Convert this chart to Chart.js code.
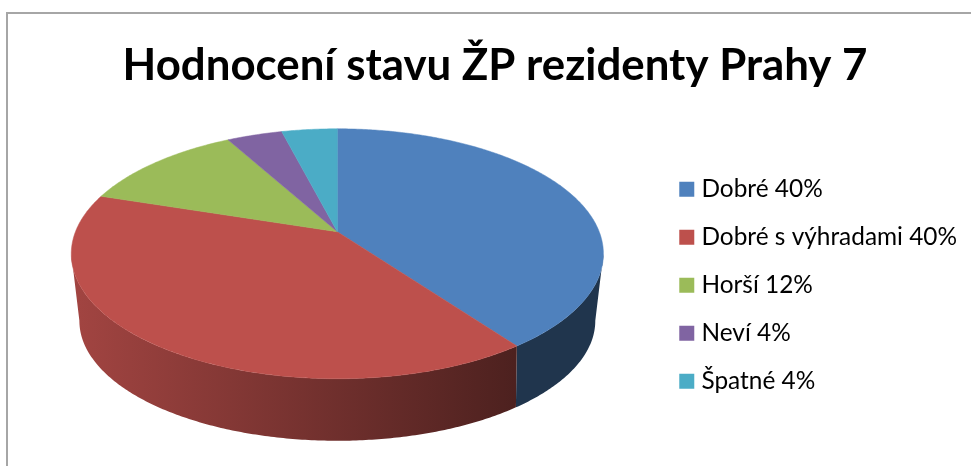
<!DOCTYPE html>
<html>
<head>
<meta charset="utf-8">
<script src="https://cdn.jsdelivr.net/npm/chart.js@4"></script>
<style>
  html, body { margin: 0; background: #fff; overflow: hidden; }
  #frame { position: absolute; left: 6px; top: 12px; width: 1000px; height: 500px; border: 2px solid #a6a6a6; }
  #wrap { position: absolute; left: 0; top: 0; width: 971px; height: 466px; }
</style>
</head>
<body>
<div id="frame"></div>
<div id="wrap"><canvas id="myChart" width="971" height="466"></canvas></div>
<script>
const categories = ['Dobré', 'Dobré s výhradami', 'Horší', 'Neví', 'Špatné'];
const shares = [40, 40, 12, 4, 4];
const colors = ['#4f81bd', '#bd504c', '#9bbb59', '#8064a2', '#4bacc6'];
const titleText = 'Hodnocení stavu ŽP rezidenty Prahy 7';

// camera for the tilted pie, offsets are measured from the arc centre
const topFace = { k: 0.176, ax: 261.9, by: 121.1, dx: -4.5, lift: -53.5 };
const bottomFace = { k: 0.21, ax: 252.2, by: 114.7, dx: -4.5, lift: 10.3 };

function project(arc, face, angle) {
  const u = Math.cos(angle);
  const v = Math.sin(angle);
  const w = 1 - face.k * v;
  return {
    x: arc.x + face.dx + (face.ax * u) / w,
    y: arc.y + face.lift + (face.by * v) / w,
  };
}

function shade(hex, f) {
  const n = parseInt(hex.slice(1), 16);
  const r = Math.round(((n >> 16) & 255) * f);
  const g = Math.round(((n >> 8) & 255) * f);
  const b = Math.round((n & 255) * f);
  return `rgb(${r}, ${g}, ${b})`;
}

function arcPoints(arc, face, from, to) {
  const pts = [];
  const steps = Math.max(2, Math.ceil((to - from) / 0.01));
  for (let i = 0; i <= steps; i++) {
    pts.push(project(arc, face, from + ((to - from) * i) / steps));
  }
  return pts;
}

// rim of one face limited to the part that faces the viewer
function rim(arc, face) {
  const edge = Math.asin(face.k);
  const from = Math.max(arc.startAngle, edge);
  const to = Math.min(arc.endAngle, Math.PI - edge);
  return to > from ? arcPoints(arc, face, from, to) : [];
}

// the arcs come from the pie controller, only their outline is re-projected
const tiltedPie = {
  id: 'tiltedPie',
  beforeDatasetsDraw(chart) {
    const ctx = chart.ctx;
    const arcs = chart.getDatasetMeta(0).data;

    // side wall first
    arcs.forEach((arc, i) => {
      const upper = rim(arc, topFace);
      const lower = rim(arc, bottomFace);
      if (!upper.length || !lower.length) return;
      const grad = ctx.createLinearGradient(79, 0, 515, 0);
      grad.addColorStop(0, shade(colors[i], 0.85));
      grad.addColorStop(1, shade(colors[i], 0.41));
      ctx.beginPath();
      upper.forEach((p, n) => (n ? ctx.lineTo(p.x, p.y) : ctx.moveTo(p.x, p.y)));
      lower.reverse().forEach((p) => ctx.lineTo(p.x, p.y));
      ctx.closePath();
      ctx.fillStyle = grad;
      ctx.fill();
    });

    // top face
    arcs.forEach((arc, i) => {
      const pts = arcPoints(arc, topFace, arc.startAngle, arc.endAngle);
      ctx.beginPath();
      ctx.moveTo(arc.x + topFace.dx, arc.y + topFace.lift);
      pts.forEach((p) => ctx.lineTo(p.x, p.y));
      ctx.closePath();
      ctx.fillStyle = colors[i];
      ctx.fill();
      ctx.strokeStyle = colors[i];
      ctx.lineWidth = 0.5;
      ctx.stroke();
    });
    return false;
  },
};

new Chart(document.getElementById('myChart').getContext('2d'), {
  type: 'pie',
  data: {
    labels: categories,
    datasets: [
      {
        data: shares,
        backgroundColor: colors,
        borderWidth: 0,
        radius: 181,
      },
    ],
  },
  options: {
    responsive: false,
    animation: false,
    layout: { padding: { left: 23, right: 4, top: 0, bottom: 0 } },
    plugins: {
      tooltip: { enabled: false },
      title: {
        display: true,
        text: titleText,
        color: '#000',
        font: { family: 'Lato', size: 43.8, weight: 'bold' },
        padding: { top: 40, bottom: 12 },
      },
      legend: {
        position: 'right',
        fullSize: false,
        labels: {
          boxWidth: 5,
          boxHeight: 5,
          padding: 23.6,
          color: '#111',
          font: { family: 'Lato', size: 24.4 },
          generateLabels() {
            return categories.map((name, i) => ({
              text: `${name} ${shares[i]}%`,
              fillStyle: colors[i],
              strokeStyle: colors[i],
              lineWidth: 10,
              index: i,
            }));
          },
        },
      },
    },
  },
  plugins: [tiltedPie],
});
</script>
</body>
</html>
